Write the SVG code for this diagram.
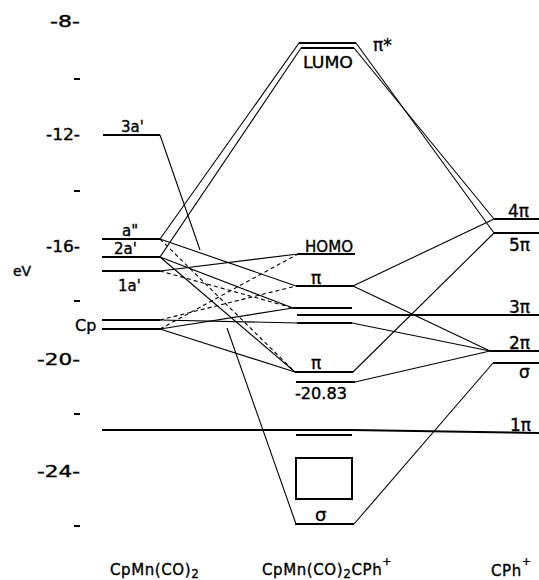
<svg xmlns="http://www.w3.org/2000/svg" width="539" height="580" viewBox="0 0 539 580">
<style>
text{font-family:"DejaVu Sans","Liberation Sans",sans-serif;fill:#000;stroke:#000;stroke-width:0.35}
.ax{font-size:15px;text-anchor:end}
.lb{font-size:15px}
.pi{font-size:17px}
.bt{font-size:15px;letter-spacing:0.6px}
.lv{stroke:#000;stroke-width:2;fill:none}
.cn{stroke:#000;stroke-width:1.1;fill:none}
.ds{stroke:#000;stroke-width:1.1;fill:none;stroke-dasharray:4 3}
.tk{stroke:#000;stroke-width:2}
</style>
<rect width="539" height="580" fill="#fff"/>
<g id="axis">
<text class="ax" x="80" y="27" textLength="30" lengthAdjust="spacingAndGlyphs">-8-</text>
<line class="tk" x1="74" y1="79" x2="80" y2="79"/>
<text class="ax" x="80" y="140" textLength="34" lengthAdjust="spacingAndGlyphs">-12-</text>
<line class="tk" x1="74" y1="191" x2="80" y2="191"/>
<text class="ax" x="80" y="252" textLength="34" lengthAdjust="spacingAndGlyphs">-16-</text>
<text x="13" y="276" style="font-size:14px">eV</text>
<line class="tk" x1="74" y1="301" x2="80" y2="301"/>
<text class="ax" x="80" y="365" textLength="43" lengthAdjust="spacingAndGlyphs">-20-</text>
<line class="tk" x1="74" y1="414" x2="80" y2="414"/>
<text class="ax" x="80" y="477" textLength="43" lengthAdjust="spacingAndGlyphs">-24-</text>
<line class="tk" x1="74" y1="526" x2="80" y2="526"/>
</g>
<g id="connectors">
<polyline class="cn" points="160,239 299,43 356,43 494,233"/>
<polyline class="cn" points="160,257 301,48 354,48 494,219"/>
<line class="cn" x1="160" y1="135" x2="200" y2="250"/>
<line class="cn" x1="227" y1="328" x2="296" y2="524"/>
<line class="cn" x1="160" y1="239" x2="296" y2="286"/>
<line class="cn" x1="160" y1="257" x2="293" y2="308"/>
<line class="cn" x1="160" y1="257" x2="295" y2="372"/>
<line class="cn" x1="160" y1="271" x2="298" y2="254"/>
<line class="cn" x1="160" y1="329" x2="293" y2="308"/>
<line class="cn" x1="160" y1="320" x2="297" y2="323"/>
<line class="cn" x1="160" y1="329" x2="295" y2="372"/>
<line class="ds" x1="160" y1="239" x2="295" y2="372"/>
<line class="ds" x1="160" y1="271" x2="293" y2="308"/>
<line class="ds" x1="160" y1="320" x2="296" y2="286"/>
<line class="ds" x1="160" y1="329" x2="298" y2="254"/>
<line class="cn" x1="353" y1="286" x2="494" y2="219"/>
<line class="cn" x1="353" y1="286" x2="490" y2="351"/>
<line class="cn" x1="352" y1="323" x2="490" y2="351"/>
<line class="cn" x1="353" y1="372" x2="494" y2="233"/>
<line class="cn" x1="355" y1="382" x2="490" y2="351"/>
<line class="cn" x1="354" y1="524" x2="493" y2="363"/>
</g>
<g id="left-3a1">
<line class="lv" x1="103" y1="135" x2="160" y2="135"/>
<text class="lb" x="121" y="132">3a'</text>
</g>
<g id="left-a2">
<line class="lv" x1="102" y1="239" x2="160" y2="239"/>
<text class="lb" x="122" y="236">a"</text>
</g>
<g id="left-2a1">
<line class="lv" x1="102" y1="257" x2="160" y2="257"/>
<text class="lb" x="114" y="254">2a'</text>
</g>
<g id="left-1a1">
<line class="lv" x1="102" y1="271" x2="160" y2="271"/>
<text class="lb" x="118" y="291">1a'</text>
</g>
<g id="left-cp">
<line class="lv" x1="102" y1="320" x2="160" y2="320"/>
<line class="lv" x1="102" y1="329" x2="160" y2="329"/>
<text class="lb" x="75" y="331" style="font-size:16px">Cp</text>
</g>
<g id="level-1pi">
<polyline class="lv" points="102,430 352,430 539,433"/>
<line class="lv" x1="296" y1="435" x2="352" y2="435"/>
<text class="pi" x="510" y="431">1π</text>
</g>
<g id="center-lumo">
<line class="lv" x1="299" y1="43" x2="356" y2="43"/>
<line class="lv" x1="301" y1="48" x2="354" y2="48"/>
<text x="303" y="68" style="font-size:15px" textLength="50" lengthAdjust="spacingAndGlyphs">LUMO</text>
<text x="373" y="51" style="font-size:17px">π*</text>
</g>
<g id="center-homo">
<line class="lv" x1="298" y1="254" x2="355" y2="254"/>
<text x="305" y="252" style="font-size:15px" textLength="48" lengthAdjust="spacingAndGlyphs">HOMO</text>
</g>
<g id="center-pi-upper">
<line class="lv" x1="296" y1="286" x2="353" y2="286"/>
<text class="pi" x="311" y="284">π</text>
</g>
<g id="center-mid">
<line class="lv" x1="293" y1="308" x2="352" y2="308"/>
<line class="lv" x1="297" y1="323" x2="352" y2="323"/>
</g>
<g id="level-3pi">
<line class="lv" x1="297" y1="315" x2="539" y2="315"/>
<text class="pi" x="509" y="313">3π</text>
</g>
<g id="center-pi-lower">
<line class="lv" x1="295" y1="372" x2="353" y2="372"/>
<text class="pi" x="311" y="369">π</text>
</g>
<g id="center-2083">
<line class="lv" x1="296" y1="382" x2="355" y2="382"/>
<text x="295" y="399" style="font-size:15px" textLength="52" lengthAdjust="spacingAndGlyphs">-20.83</text>
</g>
<g id="center-box">
<rect x="296" y="458" width="56" height="41" class="lv"/>
</g>
<g id="center-sigma">
<line class="lv" x1="295" y1="524" x2="354" y2="524"/>
<text x="315" y="521" style="font-size:18px">σ</text>
</g>
<g id="right-4pi">
<line class="lv" x1="494" y1="219" x2="539" y2="219"/>
<text class="pi" x="508" y="217">4π</text>
</g>
<g id="right-5pi">
<line class="lv" x1="494" y1="233" x2="539" y2="233"/>
<text class="pi" x="509" y="251">5π</text>
</g>
<g id="right-2pi">
<line class="lv" x1="490" y1="351" x2="539" y2="351"/>
<text class="pi" x="509" y="349">2π</text>
</g>
<g id="right-sigma">
<line class="lv" x1="493" y1="363" x2="539" y2="363"/>
<text x="519" y="378" style="font-size:17px">σ</text>
</g>
<g id="labels">
<text class="bt" x="110" y="575">CpMn(CO)<tspan dy="3" style="font-size:12px">2</tspan></text>
<text class="bt" x="262" y="575">CpMn(CO)<tspan dy="3" style="font-size:12px">2</tspan><tspan dy="-3">CPh</tspan><tspan dy="-10" style="font-size:11px">+</tspan></text>
<text class="bt" x="491" y="576">CPh<tspan dy="-11" style="font-size:11px">+</tspan></text>
</g>
</svg>
